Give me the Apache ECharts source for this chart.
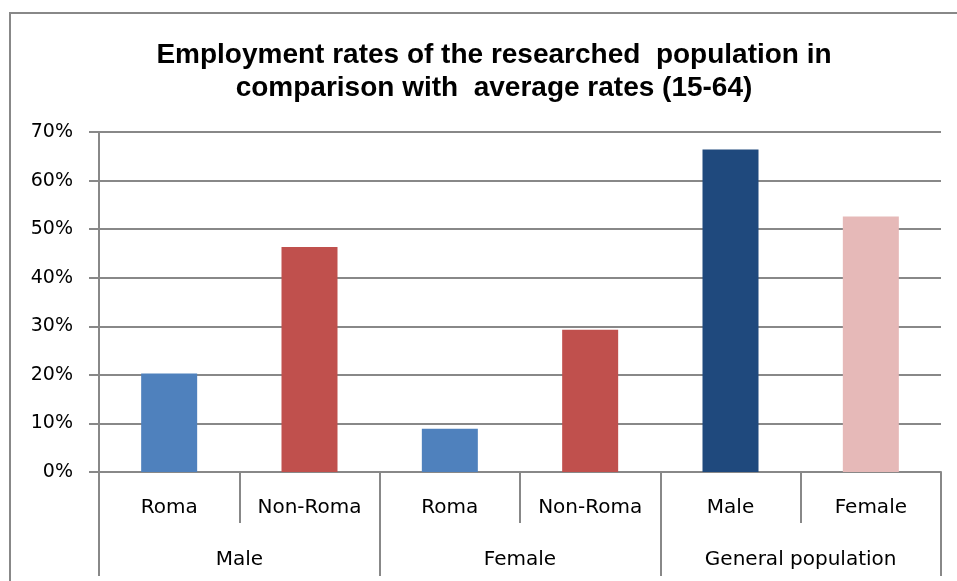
<!DOCTYPE html>
<html>
<head>
<meta charset="utf-8">
<script src="https://cdn.jsdelivr.net/npm/echarts@6/dist/echarts.min.js"></script>
<style>
  html, body { margin: 0; padding: 0; background: #fff; }
  #chart { width: 957px; height: 581px; }
</style>
</head>
<body>
<div id="chart"></div>
<script>
// data
var subCategories = ['Roma', 'Non-Roma', 'Roma', 'Non-Roma', 'Male', 'Female'];
var groupCategories = ['Male', 'Female', 'General population'];
var employmentRates = [20.3, 46.3, 8.9, 29.3, 66.4, 52.6];
var barColors = ['#4F81BD', '#C0504D', '#4F81BD', '#C0504D', '#1F497D', '#E6B9B8'];

var lineGrey = '#888888';
var labelFont = 'DejaVu Sans';

var myChart = echarts.init(document.getElementById('chart'));
myChart.setOption({
    backgroundColor: '#FFFFFF',
    animation: false,
    title: {
        text: 'Employment rates of the researched  population in\ncomparison with  average rates (15-64)',
        left: 489,
        textAlign: 'center',
        top: 34,
        textStyle: {
            fontFamily: 'Liberation Sans',
            fontWeight: 'bold',
            fontSize: 28,
            lineHeight: 33,
            color: '#000'
        }
    },
    // outer frame of the chart area
    graphic: [{
        type: 'rect',
        shape: { x: 10, y: 13, width: 1000, height: 1000 },
        style: { fill: 'none', stroke: lineGrey, lineWidth: 2 },
        silent: true
    }],
    grid: {
        left: 99,
        right: 16,
        top: 132,
        bottom: 109
    },
    xAxis: [
        {
            type: 'category',
            data: subCategories,
            position: 'bottom',
            axisLine: { show: true, lineStyle: { color: lineGrey, width: 2 } },
            axisTick: { show: true, interval: 0, length: 51, lineStyle: { color: lineGrey, width: 2 } },
            axisLabel: { interval: 0, margin: 26, fontFamily: labelFont, fontSize: 20, color: '#000' }
        },
        {
            type: 'category',
            data: groupCategories,
            position: 'bottom',
            axisLine: { show: false },
            axisTick: { show: true, interval: 0, length: 104, lineStyle: { color: lineGrey, width: 2 } },
            axisLabel: { interval: 0, margin: 78, fontFamily: labelFont, fontSize: 20, color: '#000' }
        }
    ],
    yAxis: {
        type: 'value',
        min: 0,
        max: 70,
        interval: 10,
        axisLine: { show: true, lineStyle: { color: lineGrey, width: 2 } },
        axisTick: { show: true, length: 10, lineStyle: { color: lineGrey, width: 2 } },
        splitLine: { show: true, lineStyle: { color: lineGrey, width: 2 } },
        axisLabel: {
            formatter: '{value}%',
            margin: 26,
            fontFamily: labelFont,
            fontSize: 19,
            color: '#000'
        }
    },
    series: [{
        name: 'Employment rate',
        type: 'bar',
        xAxisIndex: 0,
        barWidth: 56,
        itemStyle: {
            color: function (p) { return barColors[p.dataIndex]; }
        },
        data: employmentRates
    }]
});
</script>
</body>
</html>
